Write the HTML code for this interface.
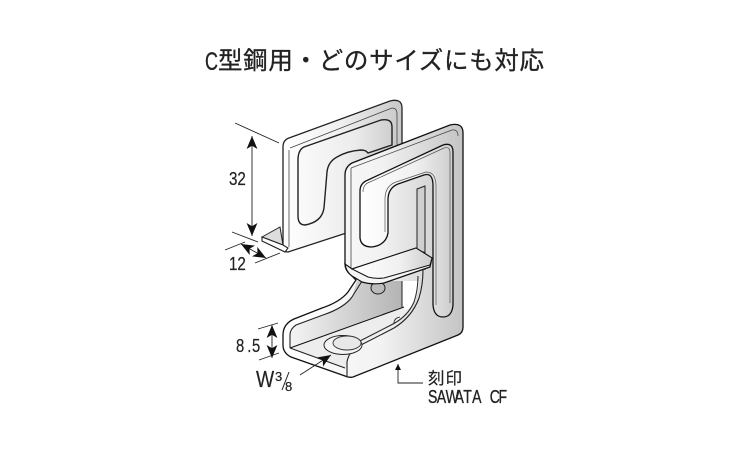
<!DOCTYPE html>
<html><head><meta charset="utf-8"><style>
html,body{margin:0;padding:0;background:#fff}
svg{display:block}
text{fill:#222}
</style></head><body>
<svg width="750" height="450" viewBox="0 0 750 450" xmlns="http://www.w3.org/2000/svg">
<defs>
<linearGradient id="g1" x1="0" y1="0" x2="1" y2="0"><stop offset="0" stop-color="#fff"/><stop offset=".55" stop-color="#f2f2f2"/><stop offset="1" stop-color="#c4c4c4"/></linearGradient>
<linearGradient id="g2" x1="0" y1="0" x2="1" y2="0"><stop offset="0" stop-color="#fff"/><stop offset=".5" stop-color="#efefef"/><stop offset="1" stop-color="#c8c8c8"/></linearGradient>
<linearGradient id="g3" x1="0" y1="0" x2="1" y2="0"><stop offset="0" stop-color="#fafafa"/><stop offset=".6" stop-color="#ececec"/><stop offset="1" stop-color="#cfcfcf"/></linearGradient>
<linearGradient id="g4" x1="0" y1="0" x2="1" y2="0"><stop offset="0" stop-color="#fff"/><stop offset=".6" stop-color="#f0f0f0"/><stop offset="1" stop-color="#cdcdcd"/></linearGradient>
<linearGradient id="g5" x1="0" y1="0" x2="1" y2="0"><stop offset="0" stop-color="#f4f4f4"/><stop offset="1" stop-color="#b4b4b4"/></linearGradient>
<marker id="a" viewBox="0 0 12 10" refX="12" refY="5" markerWidth="13" markerHeight="11" markerUnits="userSpaceOnUse" orient="auto-start-reverse"><path d="M0 0L12 5L0 10L3 5Z" fill="#111"/></marker>
<marker id="s" viewBox="0 0 10 10" refX="10" refY="5" markerWidth="6" markerHeight="6" markerUnits="userSpaceOnUse" orient="auto-start-reverse"><path d="M0 0L10 5L0 10Z" fill="#111"/></marker>
</defs>
<g font-family="'Liberation Sans','Noto Sans CJK JP',sans-serif" stroke="#222" stroke-width=".3">
<text transform="translate(205,70) scale(.72,1)" font-size="25">C</text>
<text x="218" y="69" font-size="24.5" textLength="326" lengthAdjust="spacing">型鋼用・どのサイズにも対応</text>
</g>

<!-- back plate -->
<path d="M283 147Q283 140 289 138L390 101Q402 98 402 108V215L288 252Q283 252 283 247Z" fill="url(#g2)" stroke="#222" stroke-width="1.3"/>
<path d="M290 148L392 108Q397 108 397 114V150" fill="none" stroke="#444" stroke-width=".8"/>
<path d="M289 150V247" fill="none" stroke="#444" stroke-width=".8"/>
<path d="M298 160Q298 150 304 147L381 120Q392 118 392 127V145L368 153Q366 150 361 150Q347 151 337 157Q328 162 327 172L324 208Q322 222 305 225Q298 225 298 216Z" fill="url(#g3)" stroke="#222" stroke-width="1.4"/>
<path d="M262 237L280 227L283 245Z" fill="#ddd" stroke="#222" stroke-width="1"/>
<path d="M262 237L283 245L288 248L285 252L262 241Z" fill="#fff" stroke="#222" stroke-width="1.1"/>

<!-- front plate -->
<path d="M345 175Q345 167 352 163L450 125Q463 122 463 133V327Q463 333 458 335L353 377Q349 378 345 376L291 357Q283 353 283 345V335Q283 324 294 319L322 308Q340 302 348 292L356 280L350 274Q345 270 345 264Z" fill="url(#g1)" stroke="#111" stroke-width="1.3"/>
<path d="M351 168V268" stroke="#444" stroke-width=".8" fill="none"/>
<path d="M351 168L452 130Q458 129 458 136" stroke="#444" stroke-width=".7" fill="none"/>

<!-- window/back wall -->
<path d="M357 281L402 281V307L291 347V334Q291 328 297 325L325 314Q345 307 352 297Z" fill="url(#g5)" stroke="none"/>
<path d="M402 281H419Q418 297 411 307L402 313Z" fill="#fff"/>
<path d="M402 281V307" stroke="#222" stroke-width="1"/>

<!-- floor -->
<path d="M290 348L402 307L407 311L394 323L362 345Q353 348 348 360L346 368Z" fill="#ededed"/>
<path d="M290 348L404 307" stroke="#111" stroke-width="1.1"/>
<path d="M290 348L345 368" stroke="#222" stroke-width="1.1"/>
<path d="M290 348V335Q290 329 296 325L323 315Q344 308 352 297L362 281" fill="none" stroke="#222" stroke-width="1.1"/>
<path d="M347 377V362Q349 350 361 345L394 328Q412 317 419 298Q423 285 423 270" fill="none" stroke="#222" stroke-width="1.1"/>
<path d="M352 345L393 324Q408 316 414 302Q418 290 418 276" fill="none" stroke="#222" stroke-width="1"/>
<path d="M394 323Q394 318 400 317" stroke="#222" stroke-width=".8" fill="none"/>
<ellipse cx="343" cy="345" rx="19" ry="9.5" fill="#f4f4f4" stroke="#222" stroke-width="1"/>
<ellipse cx="347" cy="343" rx="14" ry="7" fill="#e8e8e8" stroke="#333" stroke-width=".9"/>

<!-- S band front -->
<path d="M360 191Q360 183 368 180L443 145Q453 142 453 152V305Q452 317 443 317Q434 317 433 305V186Q433 172 424 175L398 184Q388 188 388 200V233Q386 245 372 247Q361 247 360 238Z" fill="url(#g4)" stroke="#111" stroke-width="1.3"/>
<path d="M363 192Q363 184 370 182L444 148Q450 146 450 153V303" fill="none" stroke="#555" stroke-width=".7"/>
<path d="M436 305V186Q436 172 426 172L396 182Q385 186 385 199V232" fill="none" stroke="#555" stroke-width=".7"/>
<path d="M417 189L425 186V252L417 252Z" fill="#cfcfcf" stroke="#222" stroke-width="1"/>
<path d="M425 186V270" stroke="#222" stroke-width="1"/>

<!-- shelf -->
<ellipse cx="378" cy="288" rx="7" ry="6" fill="#bbb" stroke="#222" stroke-width="1"/>
<path d="M345 264Q346 272 352 276L362 282Q372 285 384 283L430 267L432 258L416 248L352 269Z" fill="#f4f4f4" stroke="#111" stroke-width="1.2"/>
<path d="M352 269L416 248L432 258L430 265L384 278Q375 279 368 277Z" fill="url(#g4)" stroke="#111" stroke-width="1"/>

<!-- dimensions -->
<g stroke="#222" stroke-width=".9" fill="none">
<path d="M235 123L279 143M232 232L258 242M225 250L245 242M255 263L280 253M258 329L278 323M259 360L279 353"/>
<path d="M252 136V236" marker-start="url(#a)" marker-end="url(#a)"/>
<path d="M241 244L266 258" marker-start="url(#a)" marker-end="url(#a)"/>
<path d="M272 325V358" marker-start="url(#a)" marker-end="url(#a)"/>
<path d="M300 375L331 355" marker-end="url(#a)"/>
<path d="M423 383H398V364" marker-end="url(#s)"/>
<path d="M282 390L289 372" stroke-width="1"/>
</g>
<g font-family="'Liberation Sans','Noto Sans CJK JP',sans-serif" stroke="#222" stroke-width=".2">
<text transform="translate(229,185) scale(.82,1)" font-size="18.5" x="0">32</text>
<text transform="translate(229,270) scale(.82,1)" font-size="18.5" x="0">12</text>
<text transform="translate(236,352) scale(.8,1)" font-size="18.5" x="0 14 20">8.5</text>
<text transform="translate(256,387) scale(.82,1)" font-size="23.5">W</text>
<text x="275" y="381" font-size="13">3</text>
<text x="285" y="391" font-size="13">8</text>
<text x="428" y="384" font-size="16.5" textLength="34" lengthAdjust="spacing">刻印</text>
<text transform="translate(428,403) scale(.76,1)" font-size="18.5" x="0 11.6 23.2 34.8 46.4 58 69.6 81.2 92.8" stroke-width=".3">SAWATA CF</text>
</g>
</svg>
</body></html>
